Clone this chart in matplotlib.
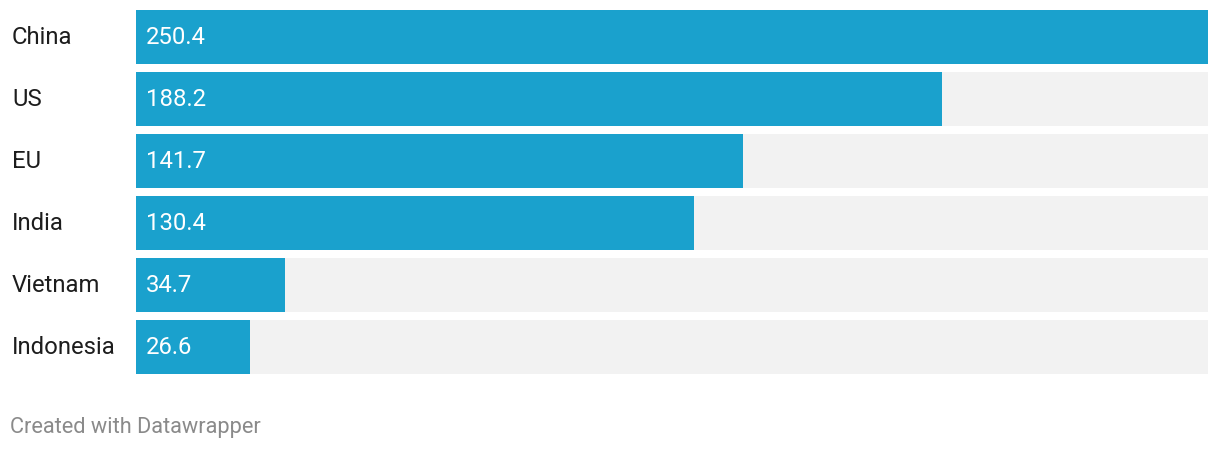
import matplotlib.pyplot as plt

countries = ["China", "US", "EU", "India", "Vietnam", "Indonesia"]
values = [250.4, 188.2, 141.7, 130.4, 34.7, 26.6]

plt.rcParams['font.family'] = ['Roboto', 'DejaVu Sans']

W, H = 1220, 450
fig = plt.figure(figsize=(W / 100, H / 100), dpi=100)
# plot area: x 136..1208 px, rows 6..378 px
ax = fig.add_axes([136 / W, (H - 378) / H, 1072 / W, 372 / H])

vmax = max(values)
ypos = list(range(len(countries)))
bh = 54 / 62
ax.barh(ypos, [vmax] * len(values), height=bh, color='#f2f2f2', linewidth=0)
ax.barh(ypos, values, height=bh, color='#1aa1cd', linewidth=0)

ax.set_xlim(0, vmax)
ax.set_ylim(len(countries) - 0.5, -0.5)
ax.axis('off')

for y, name, v in zip(ypos, countries, values):
    ax.text(-124 / 1072 * vmax, y, name, ha='left', va='center',
            fontsize=17.2, color='#1d1d1d')
    ax.text(10 / 1072 * vmax, y, f"{v:.1f}", ha='left', va='center',
            fontsize=17.2, color='white')

fig.text(10 / W, 1 - 427 / H, "Created with Datawrapper", ha='left',
         va='center', fontsize=15.7, color='#8a8a8a')

fig.savefig('out.png', dpi=100)
